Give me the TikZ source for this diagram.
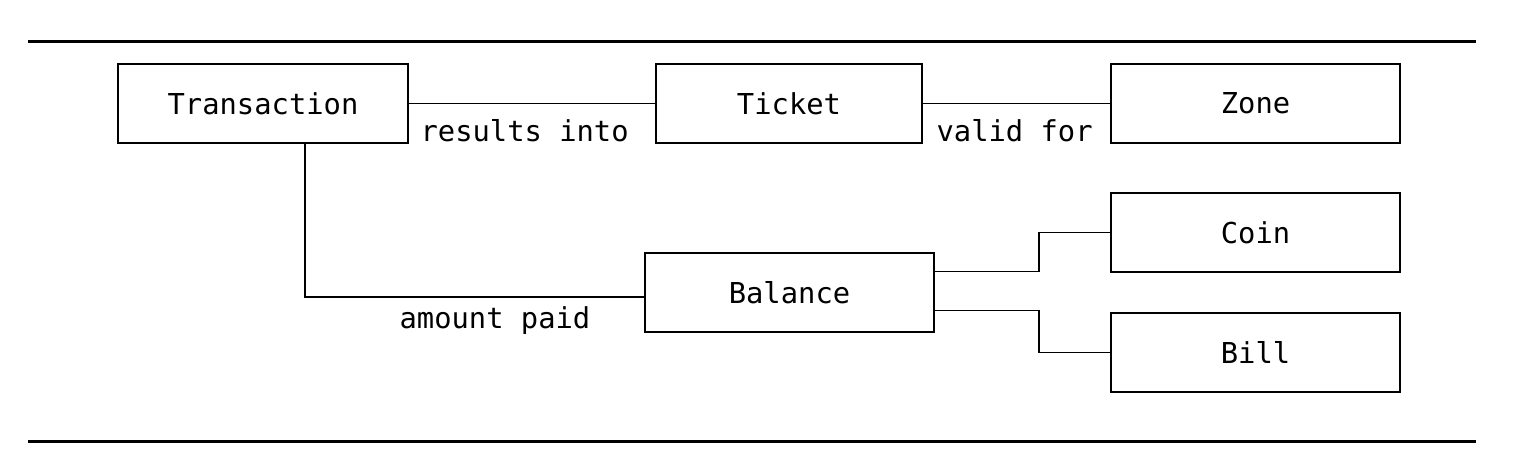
\documentclass[tikz,border=0pt]{standalone}
\usepackage{fontspec}
\setmonofont{DejaVu Sans Mono}
\begin{document}
\begin{tikzpicture}[x=0.5pt, y=-0.5pt,
    entity/.style={draw, line width=0.75pt, minimum height=39.5pt, inner sep=0pt, font=\ttfamily\fontsize{14.4}{16}\selectfont},
    rel/.style={font=\ttfamily\fontsize{14.4}{16}\selectfont, inner sep=1pt},
    link/.style={line width=0.75pt}]
        \useasboundingbox (0,0) rectangle (1522,462);
        \draw[line width=1.5pt] (28,41) -- (1476,41);
        \draw[line width=1.5pt] (28,441) -- (1476,441);

        \node[entity, minimum width=145pt] (trans) at (263,103.5) {Transaction};
        \node[entity, minimum width=133pt] (ticket) at (789,103.5) {Ticket};
        \node[entity, minimum width=144.5pt] (zone) at (1255.5,103.5) {Zone};
        \node[entity, minimum width=144.5pt] (coin) at (1255.5,232.5) {Coin};
        \node[entity, minimum width=144.5pt] (balance) at (789.5,292.5) {Balance};
        \node[entity, minimum width=144.5pt] (bill) at (1255.5,352.5) {Bill};

        \draw[link] (trans.east) -- node[rel, below, pos=0.47, yshift=-6.5pt] {results into} (ticket.west);
        \draw[link] (ticket.east) -- node[rel, below, pos=0.49, yshift=-6.5pt] {valid for} (zone.west);
        \draw[link] ([xshift=21pt]trans.south) |- node[rel, below, pos=0.78, yshift=-3.5pt] {amount paid} ([yshift=-2.2pt]balance.west);
        \draw[link] ([yshift=10.5pt]balance.east) -- ++(104,0) |- (coin.west);
        \draw[link] ([yshift=-9pt]balance.east) -- ++(104,0) |- (bill.west);
\end{tikzpicture}
\end{document}
